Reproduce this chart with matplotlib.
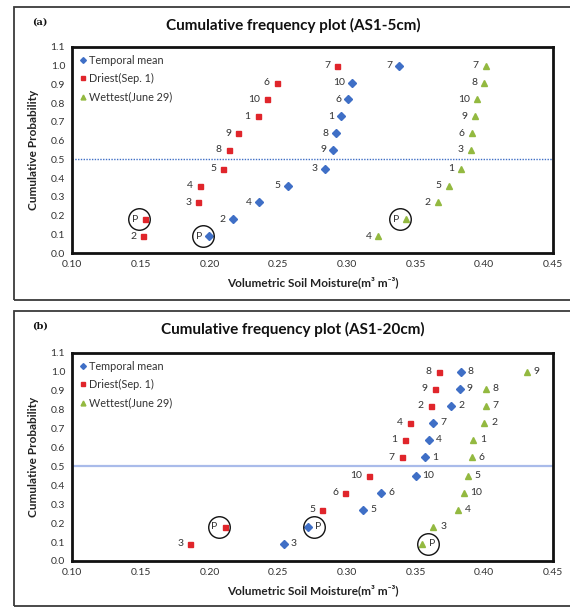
import matplotlib
matplotlib.use("Agg")
import matplotlib.pyplot as plt
import matplotlib.transforms as mtrans
from matplotlib.patches import Rectangle

plt.rcParams['font.family'] = ['Lato', 'DejaVu Sans']

prob = [0.09, 0.18, 0.27, 0.36, 0.45, 0.55, 0.64, 0.73, 0.82, 0.91, 1.0]

# Panel (a) AS1-5cm
a_mean_x = [0.200, 0.217, 0.236, 0.257, 0.284, 0.290, 0.292, 0.296, 0.301, 0.304, 0.338]
a_mean_lab = ['P', '2', '4', '5', '3', '9', '8', '1', '6', '10', '7']
a_dry_x = [0.152, 0.153, 0.192, 0.193, 0.210, 0.214, 0.221, 0.235, 0.242, 0.249, 0.293]
a_dry_lab = ['2', 'P', '3', '4', '5', '8', '9', '1', '10', '6', '7']
a_wet_x = [0.323, 0.343, 0.366, 0.374, 0.383, 0.390, 0.391, 0.393, 0.395, 0.400, 0.401]
a_wet_lab = ['4', 'P', '2', '5', '1', '3', '6', '9', '10', '8', '7']

# Panel (b) AS1-20cm
b_mean_x = [0.254, 0.272, 0.312, 0.325, 0.350, 0.357, 0.360, 0.363, 0.376, 0.382, 0.383]
b_mean_lab = ['3', 'P', '5', '6', '10', '1', '4', '7', '2', '9', '8']
b_dry_x = [0.186, 0.211, 0.282, 0.299, 0.316, 0.340, 0.342, 0.346, 0.361, 0.364, 0.367]
b_dry_lab = ['3', 'P', '5', '6', '10', '7', '1', '4', '2', '9', '8']
b_wet_x = [0.355, 0.363, 0.381, 0.385, 0.388, 0.391, 0.392, 0.400, 0.401, 0.401, 0.431]
b_wet_lab = ['P', '3', '4', '10', '5', '6', '1', '2', '7', '8', '9']

series_names = ['Temporal mean', 'Driest(Sep. 1)', 'Wettest(June 29)']
x_ticks = [0.10, 0.15, 0.20, 0.25, 0.30, 0.35, 0.40, 0.45]
y_ticks = [0.0, 0.1, 0.2, 0.3, 0.4, 0.5, 0.6, 0.7, 0.8, 0.9, 1.0, 1.1]

C_BLUE = '#3f6fc6'
C_RED = '#e0252b'
C_GREEN = '#93b940'
TXT = '#333333'

W, H = 570, 608
fig = plt.figure(figsize=(W / 100, H / 100), dpi=100)
fig.patch.set_facecolor('white')


def fx(px):
    return px / W


def fy(py):
    return 1 - py / H


panels = [
    dict(tag='(a)', title='Cumulative frequency plot (AS1-5cm)', top=7, bot=300,
         ax_top=47, ax_bot=253,
         mean=(a_mean_x, a_mean_lab, 'left'), dry=(a_dry_x, a_dry_lab, 'left'),
         wet=(a_wet_x, a_wet_lab, 'left'), hstyle=dict(color=C_BLUE, lw=1.0, ls=(0, (1, 1)))),
    dict(tag='(b)', title='Cumulative frequency plot (AS1-20cm)', top=311, bot=606,
         ax_top=353, ax_bot=561,
         mean=(b_mean_x, b_mean_lab, 'right'), dry=(b_dry_x, b_dry_lab, 'left'),
         wet=(b_wet_x, b_wet_lab, 'right'), hstyle=dict(color='#a9bbea', lw=1.6, ls='-')),
]

for p in panels:
    # outer chart frame
    fig.patches.append(Rectangle((fx(14), fy(p['bot'])), fx(600 - 14), (p['bot'] - p['top']) / H,
                                 transform=fig.transFigure, fill=False,
                                 edgecolor='#3a3a3a', lw=1.3, zorder=0))
    ax = fig.add_axes([fx(72), fy(p['ax_bot']), fx(553 - 72), (p['ax_bot'] - p['ax_top']) / H])
    ax.set_xlim(0.10, 0.45)
    ax.set_ylim(0.0, 1.1)
    ax.set_xticks(x_ticks)
    ax.set_xticklabels([f'{v:.2f}' for v in x_ticks])
    ax.set_yticks(y_ticks)
    ax.set_yticklabels([f'{v:.1f}' for v in y_ticks])
    ax.tick_params(length=0, labelsize=7.5, labelcolor=TXT, pad=5)
    for s in ax.spines.values():
        s.set_linewidth(2.0)
        s.set_color('#111111')

    ax.axhline(0.5, zorder=1, **p['hstyle'])

    specs = [(p['mean'], 'D', C_BLUE, 4.2), (p['dry'], 's', C_RED, 3.6), (p['wet'], '^', C_GREEN, 5.0)]
    for (xs, labs, side), mk, col, ms in specs:
        ax.plot(xs, prob, ls='none', marker=mk, color=col, ms=ms, mec=col, zorder=3)
        for x, y, lab in zip(xs, prob, labs):
            dx = -5 if side == 'left' else 5
            ax.annotate(lab, (x, y), xytext=(dx, 0), textcoords='offset points',
                        ha='right' if side == 'left' else 'left', va='center',
                        fontsize=7.5, color=TXT, zorder=4)
            if lab == 'P':
                off = mtrans.offset_copy(ax.transData, fig=fig, x=-6 if side == 'left' else 6,
                                         y=0, units='dots')
                ax.plot([x], [y], marker='o', ms=15.5, mfc='none', mec='#111111', mew=1.0,
                        transform=off, zorder=5, clip_on=False)

    handles = [plt.Line2D([], [], ls='none', marker=m, color=c, ms=s * 0.7, mec=c)
               for m, c, s in [('D', C_BLUE, 4.2), ('s', C_RED, 3.6), ('^', C_GREEN, 5.0)]]
    leg = ax.legend(handles, series_names, loc='upper left', frameon=False, fontsize=7.8,
                    handlelength=0.6, handletextpad=0.3, labelspacing=0.7,
                    borderaxespad=0.3, bbox_to_anchor=(0.0, 1.0))
    for t in leg.get_texts():
        t.set_color(TXT)

    ax.set_xlabel('Volumetric Soil Moisture(m³ m⁻³)', fontsize=8.5, fontweight='bold',
                  color='#222222', labelpad=5)
    ax.set_ylabel('Cumulative Probability', fontsize=8.5, fontweight='bold',
                  color='#222222', labelpad=8)

    fig.text(fx(293), fy(p['top'] + 18), p['title'], ha='center', va='center',
             fontsize=11, fontweight='bold', color='#111111')
    fig.text(fx(32), fy(p['top'] + 15), p['tag'], ha='left', va='center',
             fontsize=7, fontweight='bold', family='DejaVu Serif', color='#111111')

fig.savefig('out.png', dpi=100)
